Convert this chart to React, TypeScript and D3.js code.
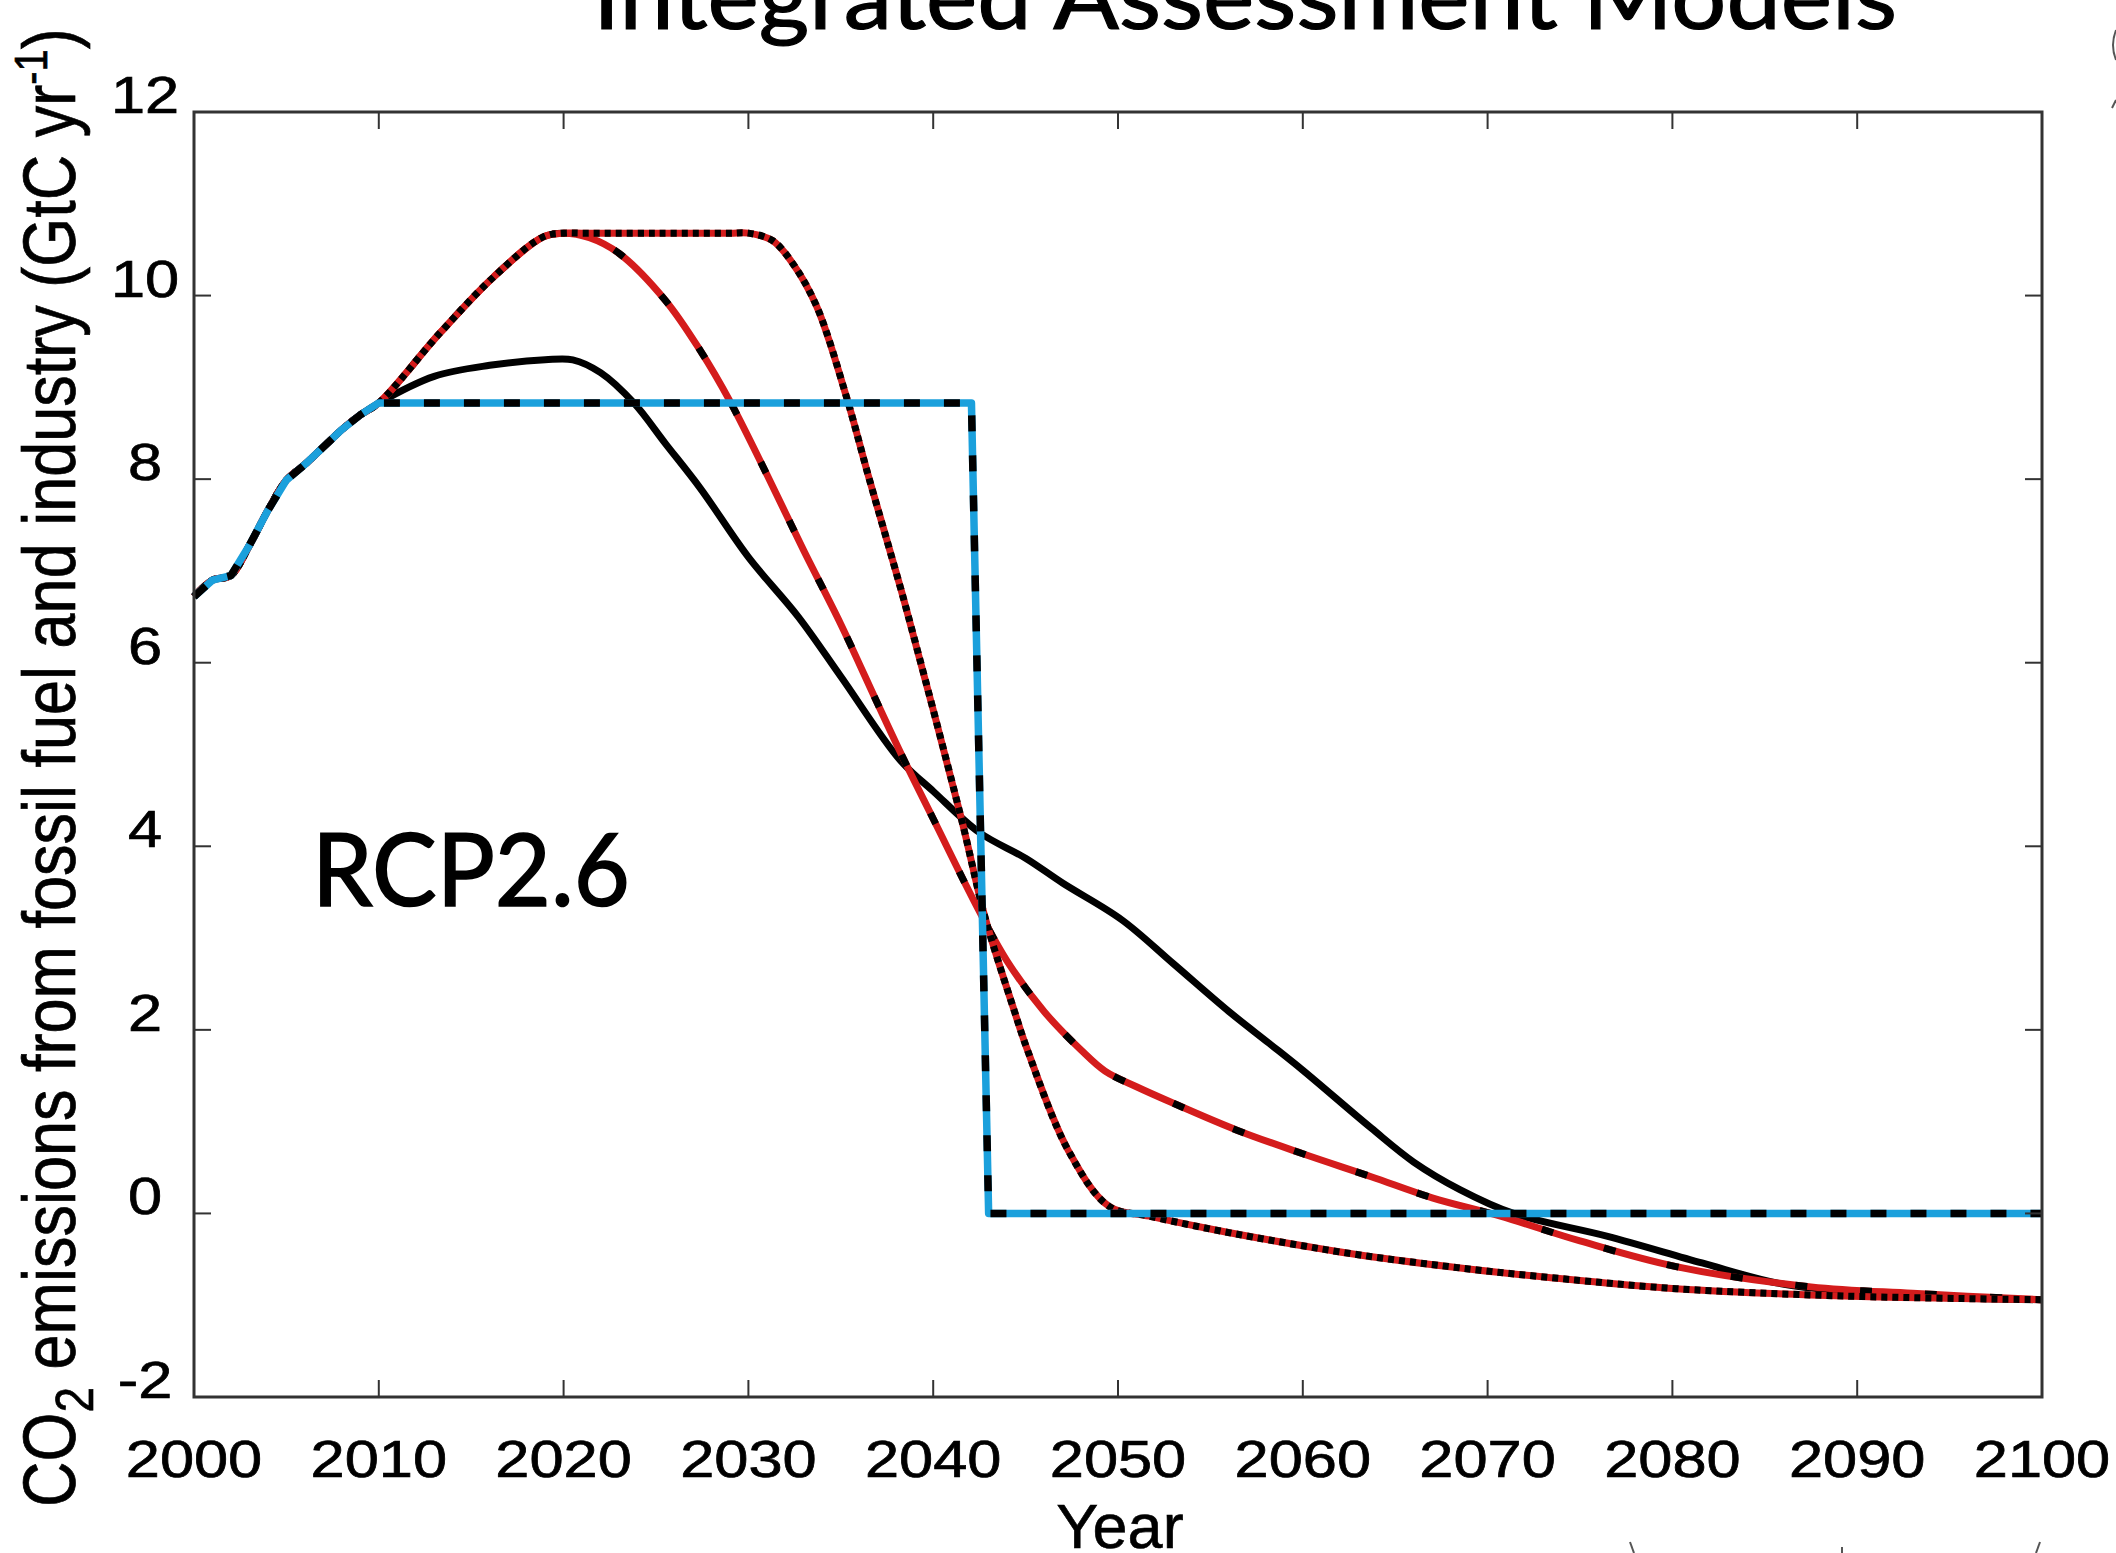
import React from 'react';
import * as d3 from 'd3';

const WIDTH = 2116;
const HEIGHT = 1553;
const PLOT = { left: 194, right: 2042, top: 112, bottom: 1397 };

// observed emissions, shared by every scenario
const historyYears = [2000, 2001, 2002, 2003, 2004, 2005, 2006, 2007, 2008, 2009, 2010];
const historyValues = [6.72, 6.9, 6.95, 7.28, 7.66, 7.99, 8.16, 8.35, 8.54, 8.7, 8.83];

// constant emissions then abrupt stop (blue / black dashed)
const stopYears = [2042.07, 2043, 2100];
const stopValues = [8.83, 0, 0];

// IAM pathway (black solid)
const iamYears = [2013, 2016, 2019, 2020.5, 2022, 2023.8, 2025.5, 2027.4, 2030, 2032.7, 2035, 2038.2, 2040, 2042.5, 2045, 2047, 2050.2, 2053, 2056, 2058.2, 2060, 2063.7, 2066, 2068.5, 2071.4, 2076.5, 2081.6, 2085.7, 2089.3, 2095, 2100];
const iamValues = [9.12, 9.24, 9.3, 9.3, 9.16, 8.83, 8.39, 7.9, 7.15, 6.5, 5.85, 4.94, 4.6, 4.15, 3.87, 3.6, 3.2, 2.72, 2.2, 1.85, 1.56, 0.93, 0.56, 0.26, 0, -0.25, -0.54, -0.76, -0.85, -0.92, -0.94];

// rise to the 2020 peak, shared by both red pathways
const riseYears = [2013.3, 2016.2, 2018.9, 2020];
const riseValues = [9.59, 10.2, 10.64, 10.68];

// peak in 2020 (red / black dashed)
const peakYears = [2021.4, 2023, 2025.5, 2027.4, 2029, 2031, 2033, 2035, 2037, 2038.4, 2040, 2042.45, 2044, 2046, 2048, 2049.3, 2051, 2053, 2056.4, 2060, 2063.7, 2067, 2070.7, 2075, 2080.2, 2087.5, 2093, 2100];
const peakValues = [10.63, 10.46, 9.95, 9.4, 8.85, 8.05, 7.22, 6.42, 5.55, 4.95, 4.3, 3.31, 2.75, 2.2, 1.78, 1.55, 1.38, 1.2, 0.91, 0.65, 0.4, 0.17, -0.03, -0.3, -0.58, -0.8, -0.87, -0.94];

// plateau until 2030 (red / black dotted)
const plateauYears = [2021, 2025, 2029, 2030, 2031.3, 2032.4, 2033.7, 2035.3, 2036.5, 2037.6, 2038.5, 2041.5, 2042.8, 2044.4, 2045.1, 2047.3, 2049.5, 2051.7, 2055, 2058.2, 2063, 2069.2, 2075, 2080.2, 2089.3, 2100];
const plateauValues = [10.68, 10.68, 10.68, 10.68, 10.6, 10.35, 9.88, 8.9, 8.03, 7.26, 6.62, 4.32, 3.23, 2.2, 1.78, 0.69, 0.08, -0.03, -0.17, -0.29, -0.45, -0.61, -0.73, -0.82, -0.9, -0.94];

const xTicks = d3.range(2000, 2101, 10);
const yTicks = d3.range(-2, 13, 2);

const BLUE = '#1ba0dc';
const RED = '#d41c1c';
const FRAME = '#333';
const SANS = '"Liberation Sans", Arial, sans-serif';
const HUMANIST = "Lato, 'Open Sans', sans-serif";

type Pt = [number, number];
const zipPts = (xs: number[], ys: number[]): Pt[] => xs.map((x, i) => [x, ys[i]] as Pt);

const x = d3.scaleLinear().domain([2000, 2100]).range([PLOT.left, PLOT.right]);
const y = d3.scaleLinear().domain([-2, 12]).range([PLOT.bottom, PLOT.top]);

const smooth = d3.line<Pt>().x((d) => x(d[0])).y((d) => y(d[1])).curve(d3.curveCatmullRom.alpha(0.5));
const straight = d3.line<Pt>().x((d) => x(d[0])).y((d) => y(d[1]));

const history = zipPts(historyYears, historyValues);
const rise = zipPts(riseYears, riseValues);

const series = [
  { id: 'iam', d: smooth([...history, ...zipPts(iamYears, iamValues)]), color: '#000', width: 7, dash: null as string | null },
  { id: 'peak', d: smooth([...history, ...rise, ...zipPts(peakYears, peakValues)]), color: RED, width: 7, dash: '12,53' },
  { id: 'plateau', d: smooth([...history, ...rise, ...zipPts(plateauYears, plateauValues)]), color: RED, width: 7, dash: '6,5' },
  { id: 'stop', d: straight([...history, ...zipPts(stopYears, stopValues)]), color: BLUE, width: 7.5, dash: '16,24' },
];

const TICK = 17;

export default function App() {
  return (
    <svg
      width={WIDTH}
      height={HEIGHT}
      style={{ position: 'absolute', left: 0, top: 0, background: '#fff' }}
    >
      <rect width={WIDTH} height={HEIGHT} fill="#fff" />

      {/* title, cut off by the top edge */}
      <text
        x={1245}
        y={29}
        textAnchor="middle"
        fontFamily={HUMANIST}
        fontSize={92}
        textLength={1304}
        lengthAdjust="spacingAndGlyphs"
        fill="#000"
        stroke="#000"
        strokeWidth={1.2}
      >
        Integrated Assessment Models
      </text>

      {/* lines */}
      <g fill="none" strokeLinejoin="round">
        {series.map((s) => (
          <g key={s.id}>
            <path d={s.d!} stroke={s.color} strokeWidth={s.width} />
            {s.dash && <path d={s.d!} stroke="#000" strokeWidth={s.width} strokeDasharray={s.dash} />}
          </g>
        ))}
      </g>

      {/* frame and ticks */}
      <rect
        x={PLOT.left}
        y={PLOT.top}
        width={PLOT.right - PLOT.left}
        height={PLOT.bottom - PLOT.top}
        fill="none"
        stroke={FRAME}
        strokeWidth={3}
      />
      <g stroke={FRAME} strokeWidth={2}>
        {xTicks.map((t) => (
          <g key={`xt${t}`}>
            <line x1={x(t)} x2={x(t)} y1={PLOT.bottom} y2={PLOT.bottom - TICK} />
            <line x1={x(t)} x2={x(t)} y1={PLOT.top} y2={PLOT.top + TICK} />
          </g>
        ))}
        {yTicks.map((t) => (
          <g key={`yt${t}`}>
            <line x1={PLOT.left} x2={PLOT.left + TICK} y1={y(t)} y2={y(t)} />
            <line x1={PLOT.right} x2={PLOT.right - TICK} y1={y(t)} y2={y(t)} />
          </g>
        ))}
      </g>

      {/* tick labels */}
      <g fontFamily={SANS} fontSize={52} fill="#000" stroke="#000" strokeWidth={0.7} textAnchor="middle">
        {xTicks.map((t) => (
          <text key={`xl${t}`} transform={`translate(${x(t)},${PLOT.bottom + 80}) scale(1.18,1)`}>
            {t}
          </text>
        ))}
        {yTicks.map((t) => (
          <text key={`yl${t}`} transform={`translate(145,${y(t) + 1}) scale(1.18,1)`}>
            {t}
          </text>
        ))}
      </g>

      {/* axis titles */}
      <text x={1120} y={1548} textAnchor="middle" fontFamily={SANS} fontSize={63} fill="#000" stroke="#000" strokeWidth={0.6}>
        Year
      </text>
      <text
        transform="translate(75,1507) scale(1.17,1) rotate(-90)"
        fontFamily={SANS}
        fontSize={63}
        fill="#000"
        stroke="#000"
        strokeWidth={0.6}
      >
        <tspan>CO</tspan>
        <tspan fontSize={46} dy={15}>2</tspan>
        <tspan dy={-15}> emissions from fossil fuel and industry (GtC yr</tspan>
        <tspan fontSize={40} dy={-24}>-1</tspan>
        <tspan dy={24}>)</tspan>
      </text>

      <text
        x={312}
        y={906}
        fontFamily={HUMANIST}
        fontSize={101}
        textLength={318}
        lengthAdjust="spacingAndGlyphs"
        fill="#000"
        stroke="#000"
        strokeWidth={1.6}
      >
        RCP2.6
      </text>

      {/* fragments of neighbouring panels at the image edges */}
      <g stroke="#555" strokeWidth={2} fill="none">
        <path d="M1630,1542 L1634,1553" />
        <path d="M1842,1547 L1842,1553" />
        <path d="M2040,1542 L2036,1553" />
        <path d="M2116,30 Q2110,45 2116,60" />
        <path d="M2116,100 L2112,108" />
      </g>
    </svg>
  );
}
